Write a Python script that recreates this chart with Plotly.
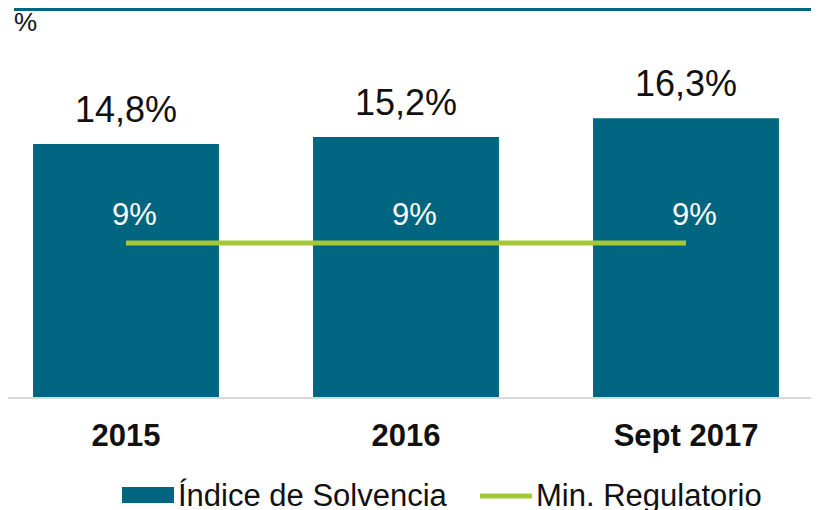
import plotly.graph_objects as go

# datos
categorias = ["2015", "2016", "Sept 2017"]
solvencia = [14.8, 15.2, 16.3]
minimo = [9, 9, 9]
etiquetas_solvencia = ["14,8%", "15,2%", "16,3%"]
etiquetas_minimo = ["9%", "9%", "9%"]

TEAL = "#006580"
GREEN = "#A5C83A"
FONT = "Arial, Liberation Sans, sans-serif"

# la página deja 8px de margen: se dibuja en 811x502 y se restan 8px a todo
OFF = 8
W, H = 819 - OFF, 510 - OFF
PLOT_H = 397 - OFF  # alto del área de trazado en px

x = list(range(len(categorias)))

fig = go.Figure()
fig.add_trace(go.Bar(
    x=x, y=solvencia, width=0.664,
    marker=dict(color=TEAL, line=dict(width=0)),
    name="Índice de Solvencia", showlegend=False,
))
fig.add_trace(go.Scatter(
    x=x, y=minimo, mode="lines",
    line=dict(color=GREEN, width=5),
    name="Min. Regulatorio", showlegend=False,
))

# etiquetas de barras
for xi, v, t in zip(x, solvencia, etiquetas_solvencia):
    fig.add_annotation(x=xi, y=v, text=t, showarrow=False, yanchor="bottom",
                       yshift=12, font=dict(size=36, color="#111111", family=FONT))
for xi, v, t in zip(x, minimo, etiquetas_minimo):
    fig.add_annotation(x=xi, y=v, text=t, showarrow=False, yanchor="middle",
                       xshift=8, yshift=29, font=dict(size=31, color="white", family=FONT))

def px_x(p):
    return (p - OFF) / W

def px_y(p):
    return (PLOT_H - (p - OFF)) / PLOT_H

shapes = [
    # línea superior
    dict(type="line", xref="paper", yref="paper", x0=px_x(14), x1=1,
         y0=px_y(9.5), y1=px_y(9.5), line=dict(color=TEAL, width=3)),
    # leyenda
    dict(type="rect", xref="paper", yref="paper", x0=px_x(122), x1=px_x(174),
         y0=px_y(503), y1=px_y(487), fillcolor=TEAL, line=dict(width=0)),
    dict(type="line", xref="paper", yref="paper", x0=px_x(480), x1=px_x(532),
         y0=px_y(496), y1=px_y(496), line=dict(color=GREEN, width=5)),
]
fig.add_annotation(xref="paper", yref="paper", x=px_x(176), y=px_y(495),
                   text="Índice de Solvencia", showarrow=False, xanchor="left",
                   yanchor="middle", font=dict(size=31, color="#111111", family=FONT))
fig.add_annotation(xref="paper", yref="paper", x=px_x(534), y=px_y(495),
                   text="Min. Regulatorio", showarrow=False, xanchor="left",
                   yanchor="middle", font=dict(size=31, color="#111111", family=FONT))
fig.add_annotation(xref="paper", yref="paper", x=px_x(12), y=px_y(22),
                   text="%", showarrow=False, xanchor="left", yanchor="middle",
                   font=dict(size=26, color="#111111", family=FONT))

step = 280
c0 = 126 - OFF
fig.update_layout(
    width=W, height=H,
    margin=dict(l=0, r=0, t=0, b=H - PLOT_H),
    paper_bgcolor="white", plot_bgcolor="white",
    font=dict(family=FONT, color="#111111"),
    shapes=shapes,
    showlegend=False,
)
fig.update_xaxes(
    range=[-c0 / step, (W - c0) / step],
    tickvals=x, ticktext=[f"<b>{c}</b>" for c in categorias],
    tickfont=dict(size=31, color="#111111", family=FONT),
    ticklabelstandoff=10,
    showline=True, linecolor="#D9D9D9", linewidth=2,
    showgrid=False, zeroline=False, ticks="", ticklen=0,
)
fig.update_yaxes(
    range=[0, PLOT_H / 17.1], visible=False, showgrid=False, zeroline=False,
)

fig.write_html("out.html")
